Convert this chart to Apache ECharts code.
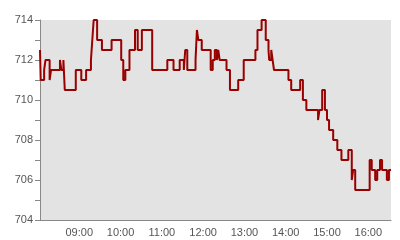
<!DOCTYPE html>
<html>
<head>
<meta charset="utf-8">
<script src="https://cdn.jsdelivr.net/npm/echarts@6/dist/echarts.min.js"></script>
<style>html,body{margin:0;padding:0;background:#fff}#c{width:400px;height:240px}</style>
</head>
<body>
<div id="c"></div>
<script>
// Step-change times (HH:MM) and the price held from that time onward
var times = ["08:03","08:04","08:09","08:11","08:17","08:19","08:32","08:34","08:37","08:39",
  "08:55","09:03","09:10","09:17","09:19","09:21","09:26","09:33","09:47","10:01",
  "10:04","10:07","10:13","10:21","10:25","10:31","10:46","11:08","11:17","11:26",
  "11:32","11:34","11:37","11:49","11:51","11:53","11:58","12:11","12:14","12:17",
  "12:20","12:22","12:24","12:34","12:39","12:51","12:59","13:16","13:19","13:25",
  "13:31","13:35","13:36","13:39","13:41","13:43","14:04","14:08","14:21","14:25",
  "14:30","14:47","14:49","14:53","14:57","15:00","15:03","15:09","15:15","15:21",
  "15:31","15:36","15:38","15:41","16:02","16:05","16:10","16:13","16:17","16:20",
  "16:27","16:30","16:33"];
var prices = [712.5,711,711.5,712,711,711.5,712,711.5,712,710.5,
  711.5,711,711.5,712,713,714,713,712.5,713,712,
  711,711.5,712.5,713.5,712.5,713.5,711.5,712,711.5,712,
  711.5,712.5,711.5,712,713.5,713,712.5,711.5,712,712.5,
  712,712.5,712,711.5,710.5,711,712,712.5,713.5,714,
  713,712.5,712,712.5,712,711.5,711,710.5,711,710,
  709.5,709,709.5,710.5,709.5,709,708.5,708,707.5,707,
  707.5,706,706.5,705.5,707,706.5,706,706.5,707,706.5,
  706,706.5,706.5];
var xStart = "08:03", xEnd = "16:33";
var yMin = 704, yMax = 714, yStep = 2;

function toTs(s){var p=s.split(":");return new Date(2024,0,2,+p[0],+p[1]).getTime();}
var data = times.map(function(t,i){return [toTs(t), prices[i]];});

var chart = echarts.init(document.getElementById('c'), null, {renderer:'canvas'});
chart.setOption({
  animation:false,
  grid:{left:40,right:9,top:20,bottom:20,show:true,backgroundColor:'#e3e3e3',borderWidth:0},
  xAxis:{
    type:'time', min:toTs(xStart), max:toTs(xEnd),
    minInterval:3600000, maxInterval:3600000,
    axisLine:{show:true,lineStyle:{color:'#888',width:1}},
    axisTick:{show:false},
    splitLine:{show:false},
    axisLabel:{color:'#555',fontFamily:'Liberation Sans, Arial, sans-serif',fontSize:11,margin:7,
      formatter:function(v){var d=new Date(v);var h=d.getHours(),m=d.getMinutes();
        return (h<10?'0':'')+h+':'+(m<10?'0':'')+m;}}
  },
  yAxis:{
    type:'value', min:yMin, max:yMax, interval:yStep,
    axisLine:{show:true,lineStyle:{color:'#888',width:1}},
    axisTick:{show:true,length:5,lineStyle:{color:'#888'}},
    minorTick:{show:true,splitNumber:2,length:5,lineStyle:{color:'#888'}},
    splitLine:{show:false},
    axisLabel:{color:'#555',fontFamily:'Liberation Sans, Arial, sans-serif',fontSize:11,margin:7}
  },
  series:[{
    type:'line', step:'end', data:data, showSymbol:false,
    lineStyle:{color:'#990000',width:2}, itemStyle:{color:'#990000'}
  }]
});
</script>
</body>
</html>
